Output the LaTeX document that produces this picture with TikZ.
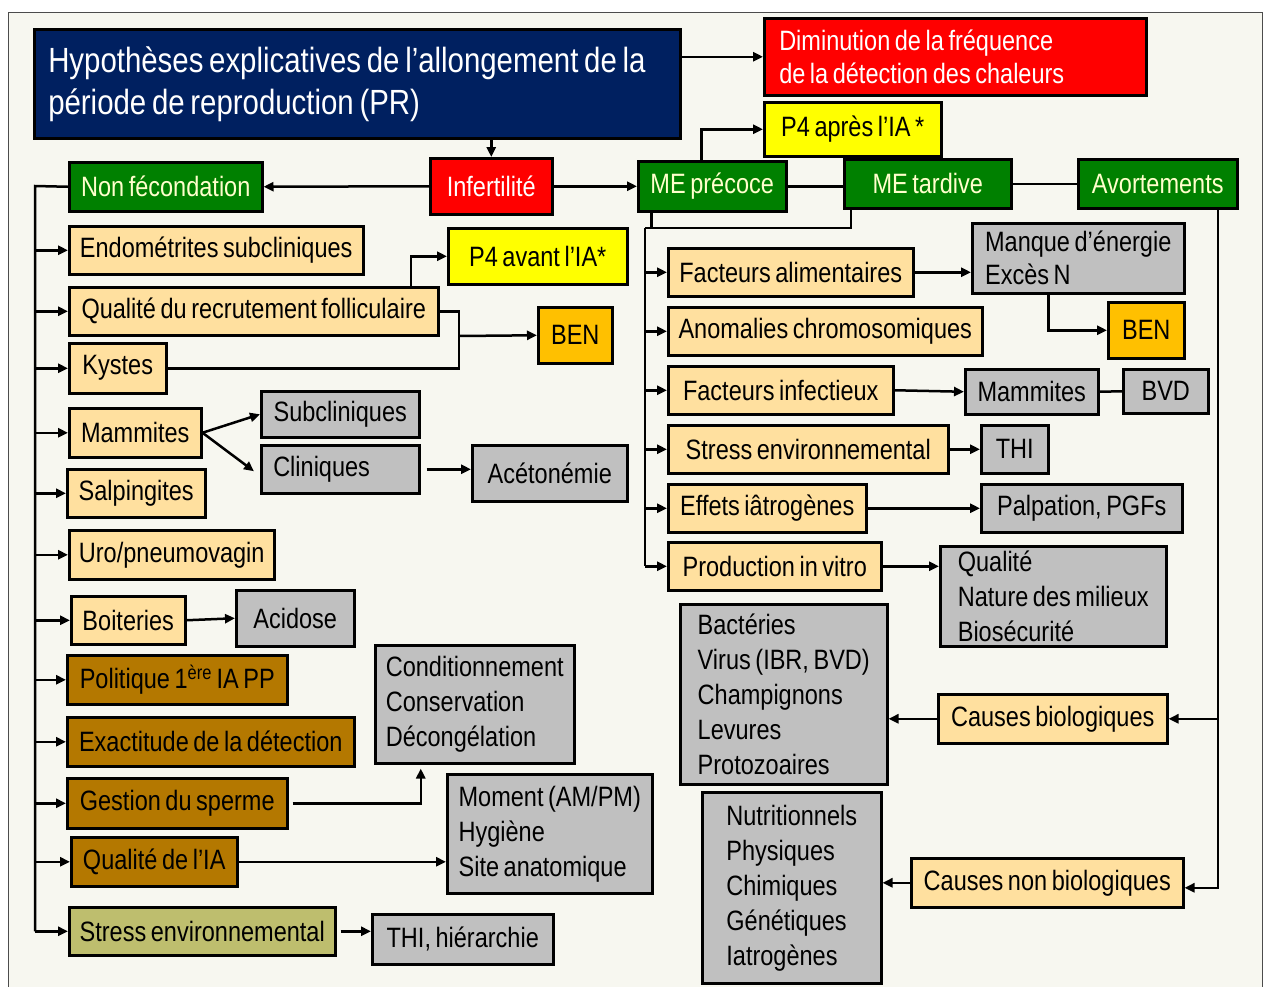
\documentclass[tikz,border=0pt]{standalone}
\usepackage{fontspec}
\setmainfont[FakeStretch=0.84, WordSpace=0.7]{Liberation Sans}
\usetikzlibrary{arrows.meta}
\definecolor{navy}{HTML}{002060}
\definecolor{rred}{HTML}{FF0000}
\definecolor{ggreen}{HTML}{008000}
\definecolor{yyellow}{HTML}{FFFF00}
\definecolor{wheat}{HTML}{FFE09F}
\definecolor{bengold}{HTML}{FFC000}
\definecolor{ggrey}{HTML}{C0C0C0}
\definecolor{brown}{HTML}{B47800}
\definecolor{olive}{HTML}{BEBE6E}
\definecolor{bg}{HTML}{F7F7F0}
\definecolor{pale}{HTML}{FFFFCC}
\newcommand\fsz{\fontsize{28pt}{35pt}\selectfont}
\newcommand\fsttl{\fontsize{35pt}{42pt}\selectfont}
\newcommand\fsdim{\fontsize{28pt}{33pt}\selectfont}
\begin{document}
\begin{tikzpicture}[x=1pt,y=-1pt,
  bx/.style={draw=black, line width=2.5pt, anchor=north west, inner sep=0pt, font=\fsz, text=black},
  wh/.style={bx, fill=wheat},
  gr/.style={bx, fill=ggrey},
  br/.style={bx, fill=brown},
  gn/.style={bx, fill=ggreen, text=pale},
  ln/.style={line width=2.5pt},
  arr/.style={line width=2.5pt, -{Triangle[length=10pt,width=9pt]}},
]
\useasboundingbox (0,0) rectangle (1266,986);
\fill[bg] (8,12) rectangle (1262,990);
\draw[line width=1pt, black!70] (8,990) -- (8,12) -- (1262,12) -- (1262,990);

% top
\node[bx, fill=navy, text=white, font=\fsttl, align=flush left, text width=618pt, minimum width=646pt, minimum height=109pt] (title) at (33,28) {Hypothèses explicatives de l’allongement de la\\période de reproduction (PR)};
\node[bx, fill=rred, text=white, font=\fsdim, align=flush left, text width=352pt, minimum width=382pt, minimum height=77pt] (dimin) at (763,17) {Diminution de la fréquence\\de la détection des chaleurs};
\node[bx, fill=yyellow, minimum width=177pt, minimum height=54pt] (p4a) at (763,101) {P4 après l’IA *};
\node[bx, fill=rred, text=white, minimum width=122pt, minimum height=56pt] (infert) at (429,157) {Infertilité};
\node[gn, minimum width=193pt, minimum height=49pt] (nonfec) at (68,161) {Non fécondation};
\node[gn, minimum width=148pt, minimum height=50pt] (mep) at (637,160) {ME précoce};
\node[gn, minimum width=167pt, minimum height=49pt] (met) at (843,158) {ME tardive};
\node[gn, minimum width=159pt, minimum height=49pt] (avort) at (1077,158) {Avortements};

% left column
\node[wh, minimum width=294pt, minimum height=48pt] (endo) at (68,225) {Endométrites subcliniques};
\node[wh, minimum width=369pt, minimum height=48pt] (qual) at (68,286) {Qualité du recrutement folliculaire};
\node[wh, minimum width=97pt, minimum height=50pt] (kyst) at (68,342) {Kystes};
\node[wh, minimum width=132pt, minimum height=49pt] (mam) at (68,407) {Mammites};
\node[wh, minimum width=138pt, minimum height=48pt] (salp) at (66,468) {Salpingites};
\node[wh, minimum width=205pt, minimum height=49pt] (uro) at (68,529) {Uro/pneumovagin};
\node[wh, minimum width=114pt, minimum height=48pt] (boit) at (70,595) {Boiteries};
\node[br, minimum width=220pt, minimum height=49pt] (pol) at (66,654) {Politique 1\textsuperscript{ère} IA PP};
\node[br, minimum width=287pt, minimum height=49pt] (exa) at (66,716) {Exactitude de la détection};
\node[br, minimum width=220pt, minimum height=50pt] (gest) at (66,777) {Gestion du sperme};
\node[br, minimum width=166pt, minimum height=49pt] (qia) at (70,836) {Qualité de l’IA};
\node[bx, fill=olive, minimum width=266pt, minimum height=48pt] (stress) at (68,906) {Stress environnemental};

\node[bx, fill=yyellow, minimum width=179pt, minimum height=56pt] (p4b) at (447,227) {P4 avant l’IA*};
\node[bx, fill=bengold, minimum width=74pt, minimum height=56pt] (ben1) at (537,306) {BEN};
\node[gr, minimum width=158pt, minimum height=46pt] (subc) at (260,390) {Subcliniques};
\node[gr, minimum width=158pt, minimum height=48pt, align=flush left, text width=134pt] (clin) at (260,444) {Cliniques};
\node[gr, minimum width=155pt, minimum height=56pt] (acet) at (471,444) {Acétonémie};
\node[gr, minimum width=118pt, minimum height=56pt] (acid) at (235,589) {Acidose};
\node[gr, minimum width=199pt, minimum height=118pt, align=left] (cond) at (374,644) {Conditionnement\\Conservation\\Décongélation};
\node[gr, minimum width=205pt, minimum height=119pt, align=left] (mom) at (446,773) {Moment (AM/PM)\\Hygiène\\Site anatomique};
\node[gr, minimum width=181pt, minimum height=50pt] (thih) at (371,913) {THI, hiérarchie};

% right column
\node[wh, minimum width=245pt, minimum height=48pt] (fa) at (667,247) {Facteurs alimentaires};
\node[wh, minimum width=314pt, minimum height=48pt] (anom) at (667,306) {Anomalies chromosomiques};
\node[wh, minimum width=225pt, minimum height=48pt] (fi) at (667,365) {Facteurs infectieux};
\node[wh, minimum width=280pt, minimum height=48pt] (se2) at (667,424) {Stress environnemental};
\node[wh, minimum width=198pt, minimum height=48pt] (eff) at (667,483) {Effets iâtrogènes};
\node[wh, minimum width=213pt, minimum height=48pt] (prod) at (667,541) {Production in vitro};

\node[gr, minimum width=212pt, minimum height=70pt, align=left, font=\fontsize{28pt}{33pt}\selectfont] (manq) at (971,222) {Manque d’énergie\\Excès N};
\node[bx, fill=bengold, minimum width=76pt, minimum height=56pt] (ben2) at (1107,301) {BEN};
\node[gr, minimum width=133pt, minimum height=45pt] (mam2) at (964,368) {Mammites};
\node[gr, minimum width=85pt, minimum height=44pt] (bvd) at (1122,368) {BVD};
\node[gr, minimum width=67pt, minimum height=48pt] (thi) at (980,424) {THI};
\node[gr, minimum width=201pt, minimum height=48pt] (palp) at (980,483) {Palpation, PGFs};
\node[gr, minimum width=226pt, minimum height=100pt, align=left] (qual2) at (939,545) {Qualité\\Nature des milieux\\Biosécurité};
\node[wh, minimum width=229pt, minimum height=49pt] (cb) at (937,693) {Causes biologiques};
\node[gr, minimum width=207pt, minimum height=180pt, align=left] (bact) at (679,603) {Bactéries\\Virus (IBR, BVD)\\Champignons\\Levures\\Protozoaires};
\node[wh, minimum width=272pt, minimum height=49pt] (cnb) at (910,857) {Causes non biologiques};
\node[gr, minimum width=179pt, minimum height=191pt, align=left] (nutr) at (701,791) {Nutritionnels\\Physiques\\Chimiques\\Génétiques\\Iatrogènes};

% connectors top
\draw[arr] (title.south -| infert.north) -- (infert.north);
\draw[arr] (title.east |- dimin.west) -- (dimin.west);
\draw[arr] (infert.west) -- (nonfec.east);
\draw[arr] (infert.east) -- (mep.west);
\draw[arr] ([xshift=-11pt]mep.north) |- (p4a.west);
\draw[ln] (mep.east) -- (mep.east -| met.west);
\draw[ln] (met.east) -- (met.east -| avort.west);

% left tree
\coordinate (ltop) at (35,186);
\draw[ln] (nonfec.west) -- (ltop) -- (ltop |- stress.west);
\foreach \n in {endo,qual,kyst,mam,salp,uro,boit,pol,exa,gest,qia,stress}
  \draw[arr] (ltop |- \n.west) -- (\n.west);

\draw[arr] ([xshift=157pt]qual.north) |- (p4b.west);
\coordinate (bj) at (459,336);
\draw[ln] (qual.east) -| (bj);
\draw[ln] (kyst.east) -| (bj);
\draw[arr] (bj) -- (ben1.west);
\draw[arr] (mam.east) -- (subc.west);
\draw[arr] (mam.east) -- ([xshift=-6pt, yshift=-2pt]clin.west);
\draw[arr] ([xshift=6pt]clin.east) -- (acet.west |- clin.east);
\draw[arr] (boit.east) -- (acid.west);
\draw[arr] ([xshift=4pt]gest.east) -| ([xshift=-54pt, yshift=-4pt]cond.south);
\draw[arr] (qia.east) -- (mom.west |- qia.east);
\draw[arr] ([xshift=4pt]stress.east) -- (thih.west |- stress.east);

% right tree
\coordinate (rtop) at (645,228);
\draw[ln] ([xshift=-61pt]mep.south) |- (rtop);
\draw[ln] ([xshift=-77pt]met.south) |- (rtop);
\draw[ln] (rtop) -- (rtop |- prod.west);
\foreach \n in {fa,anom,fi,se2,eff,prod}
  \draw[arr] (rtop |- \n.west) -- (\n.west);

\draw[arr] (fa.east) -- (manq.west |- fa.east);
\draw[arr] ([xshift=-30pt]manq.south) |- (ben2.west);
\draw[arr] (fi.east) -- (mam2.west);
\draw[ln] (mam2.east) -- (bvd.west);
\draw[arr] (se2.east) -- (thi.west |- se2.east);
\draw[arr] (eff.east) -- (palp.west |- eff.east);
\draw[arr] (prod.east) -- (qual2.west |- prod.east);

\coordinate (ab) at ([xshift=60pt]avort.south);
\draw[arr] (ab) |- ([yshift=-5pt]cnb.east);
\draw[arr] (ab |- cb.east) -- (cb.east);
\draw[arr] (cb.west) -- (bact.east |- cb.west);
\draw[arr] (cnb.west) -- (nutr.east |- cnb.west);
\end{tikzpicture}
\end{document}
